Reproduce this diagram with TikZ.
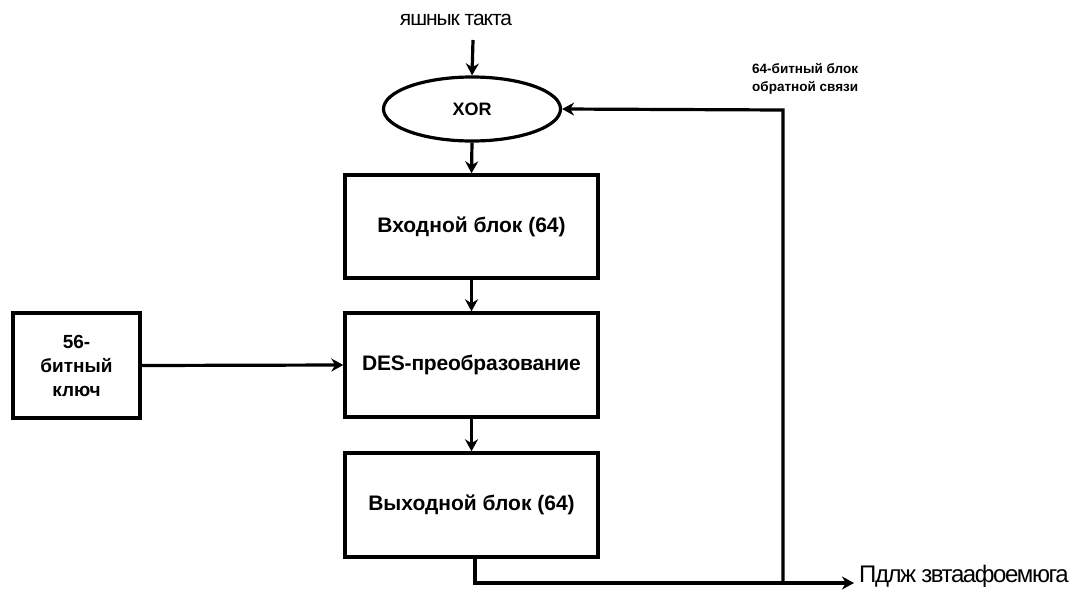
\documentclass[tikz,border=0pt]{standalone}
\usepackage{fontspec}
\setmainfont{Liberation Sans}
\usetikzlibrary{arrows.meta,shapes.geometric}
\begin{document}
\begin{tikzpicture}[x=1pt,y=-1pt,
  blk/.style={draw,line width=3.4pt,rectangle,inner sep=0pt,font=\bfseries\fontsize{21}{24}\selectfont},
  conn/.style={line width=3.2pt,-{Stealth[length=12pt,width=13pt]}},
  plain/.style={line width=3.2pt},
  lbl/.style={inner sep=0pt,font=\fontsize{21}{24}\selectfont}]
\useasboundingbox (0,0) rectangle (1081,592);
\node[lbl,anchor=center] (clk) at (456,20) {\addfontfeature{LetterSpace=-5}яшнык такта};
\node[draw,line width=3.2pt,ellipse,minimum width=177pt,minimum height=64pt,inner sep=0pt,font=\bfseries\fontsize{18}{20}\selectfont] (xor) at (472,109) {XOR};
\node[blk,minimum width=253pt,minimum height=103pt] (in) at (471.5,226.5) {Входной блок (64)};
\node[blk,minimum width=253pt,minimum height=104pt] (des) at (471.5,365) {\addfontfeature{LetterSpace=-1}DES-преобразование};
\node[blk,minimum width=253pt,minimum height=104pt] (out) at (471.5,505) {Выходной блок (64)};
\node[blk,minimum width=127pt,minimum height=105pt,align=center,font=\bfseries\fontsize{19}{24}\selectfont] (key) at (76.5,365.5) {56-\\битный\\ключ};
\node[anchor=north west,inner sep=0pt,align=left,font=\bfseries\fontsize{13.5}{18}\selectfont] (fb) at (752,63) {64-битный блок\\обратной связи};
\node[lbl,anchor=west,font=\fontsize{24}{26}\selectfont] (res) at (859,576) {\addfontfeature{LetterSpace=-6}Пдлж звтаафоемюга};
\coordinate (c1) at (783,583);
\coordinate (c2) at (475,583);
\coordinate (c3) at (783,110);
\coordinate (c4) at (854,583);
\draw[conn] (473,40) -- (xor.north);
\draw[conn] (xor.south) -- (in.north);
\draw[conn] (in.south) -- (des.north);
\draw[conn] (des.south) -- (out.north);
\draw[conn] (key.east) -- (des.west);
\draw[plain] (out.south -| c2) -- (c2) -- (c1);
\draw[conn] (c2) -- (c4);
\draw[conn] (c1) -- (c3) -- (xor.east);
\end{tikzpicture}
\end{document}
